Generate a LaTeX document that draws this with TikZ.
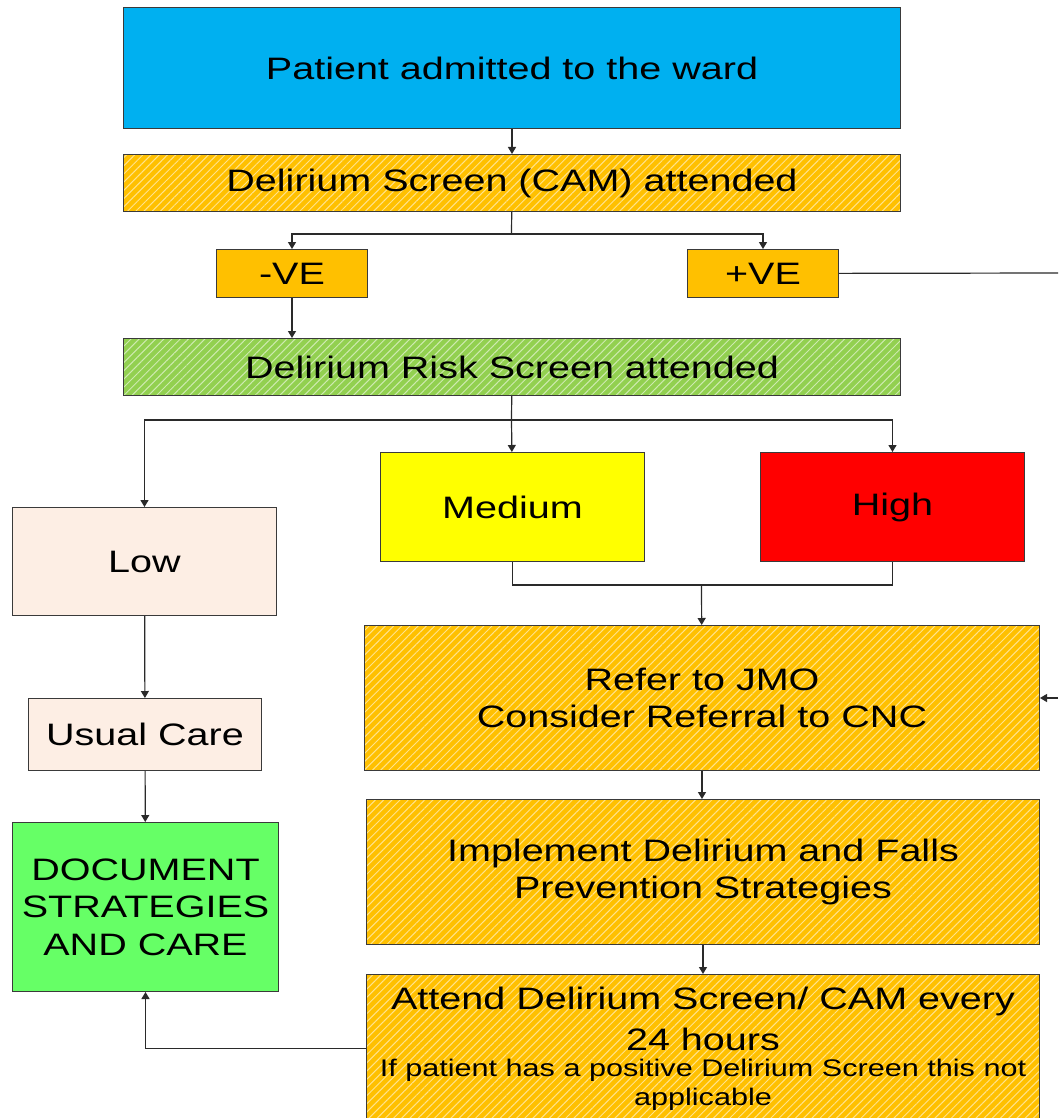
\documentclass[tikz,border=0pt]{standalone}
\usepackage{fontspec}
\setmainfont[FakeStretch=1.275]{Liberation Sans}
\usetikzlibrary{arrows.meta,patterns.meta}
\definecolor{cblue}{HTML}{00B0F0}
\definecolor{corange}{HTML}{FFC000}
\definecolor{cgreen}{HTML}{92D050}
\definecolor{cyellow}{HTML}{FFFF00}
\definecolor{cred}{HTML}{FF0000}
\definecolor{cpeach}{HTML}{FDEEE4}
\definecolor{cbright}{HTML}{66FF66}
\definecolor{boxborder}{HTML}{3A3A3A}
\definecolor{lineclr}{HTML}{2A2A2A}
\newcommand\bigfont{\fontsize{31}{37.5}\selectfont}
\newcommand\smallfont{\fontsize{24}{27}\selectfont}
\tikzset{
  box/.style={draw=boxborder, line width=1pt, inner sep=0pt, align=center, font=\bigfont, anchor=north west},
  hatch/.style={fill=#1,
    postaction={pattern={Lines[angle=45,distance=5.8pt,line width=1pt]}, pattern color=white!55!#1},
    postaction={draw=boxborder, line width=1pt}},
  link/.style={draw=lineclr, line width=1.2pt},
  conn/.style={link, -{Triangle[length=7pt,width=8pt]}},
}
\begin{document}
\begin{tikzpicture}[x=1pt,y=-1pt]
\clip (0,0) rectangle (1058,1118);
\fill[white] (0,0) rectangle (1058,1118);
\node[box, fill=cblue, minimum width=777pt, minimum height=121pt] (pat) at (123,7) {Patient admitted to the ward};
\node[box, hatch=corange, minimum width=777pt, minimum height=57pt] (cam) at (123,154) {Delirium Screen (CAM) attended};
\node[box, fill=corange, minimum width=151pt, minimum height=48pt] (neg) at (216,249) {-VE};
\node[box, fill=corange, minimum width=151pt, minimum height=48pt] (pos) at (687,249) {+VE};
\node[box, hatch=cgreen, minimum width=777pt, minimum height=57pt] (risk) at (123,338) {Delirium Risk Screen attended};
\node[box, fill=cyellow, minimum width=264pt, minimum height=109pt] (med) at (380,452) {Medium};
\node[box, fill=cred, minimum width=264pt, minimum height=109pt] (high) at (760,452) {High};
\node[box, fill=cpeach, minimum width=264pt, minimum height=108pt] (low) at (12,507) {Low};
\node[box, fill=cpeach, minimum width=233pt, minimum height=72pt] (usual) at (28,698) {Usual Care};
\node[box, fill=cbright, minimum width=266pt, minimum height=169pt] (doc) at (12,822) {DOCUMENT\\STRATEGIES\\AND CARE};
\node[box, hatch=corange, minimum width=675pt, minimum height=145pt] (refer) at (364,625) {Refer to JMO\\Consider Referral to CNC};
\node[box, hatch=corange, minimum width=673pt, minimum height=145pt] (impl) at (366,799) {Implement Delirium and Falls\\Prevention Strategies};
\node[box, hatch=corange, minimum width=673pt, minimum height=148pt] (attend) at (366,974) {Attend Delirium Screen/ CAM every\\[3pt]24 hours\\[-11pt]\smallfont If patient has a positive Delirium Screen this not\\[-9pt]\smallfont applicable};
% connectors
\draw[conn] (pat) -- (cam);
\coordinate (j1) at (511.5,234);
\draw[link] (cam) -- (j1);
\draw[conn] (j1) -| (neg);
\draw[conn] (j1) -| (pos);
\draw[conn] (neg) -- (neg |- risk.north);
\coordinate (e1) at (1058,273);
\draw[link] (pos) -- (e1);
\coordinate (j2) at (511.5,420);
\draw[link] (risk) -- (j2);
\draw[conn] (j2) -| (low);
\draw[conn] (j2) -- (med);
\draw[conn] (j2) -| (high);
\coordinate (j3) at (701.5,585);
\draw[link] (med.south) |- (j3) -| (high.south);
\draw[conn] (j3) -- (refer);
\draw[conn] (low) -- (usual);
\draw[conn] (usual) -- (doc);
\draw[conn] (refer.south) -- (refer.south |- impl.north);
\draw[conn] (impl.south) -- (impl.south |- attend.north);
\draw[conn] (attend.west) -| (doc.south);
\coordinate (e2) at (1058,698);
\draw[conn] (e2) -- (e2 -| refer.east);
\end{tikzpicture}
\end{document}
